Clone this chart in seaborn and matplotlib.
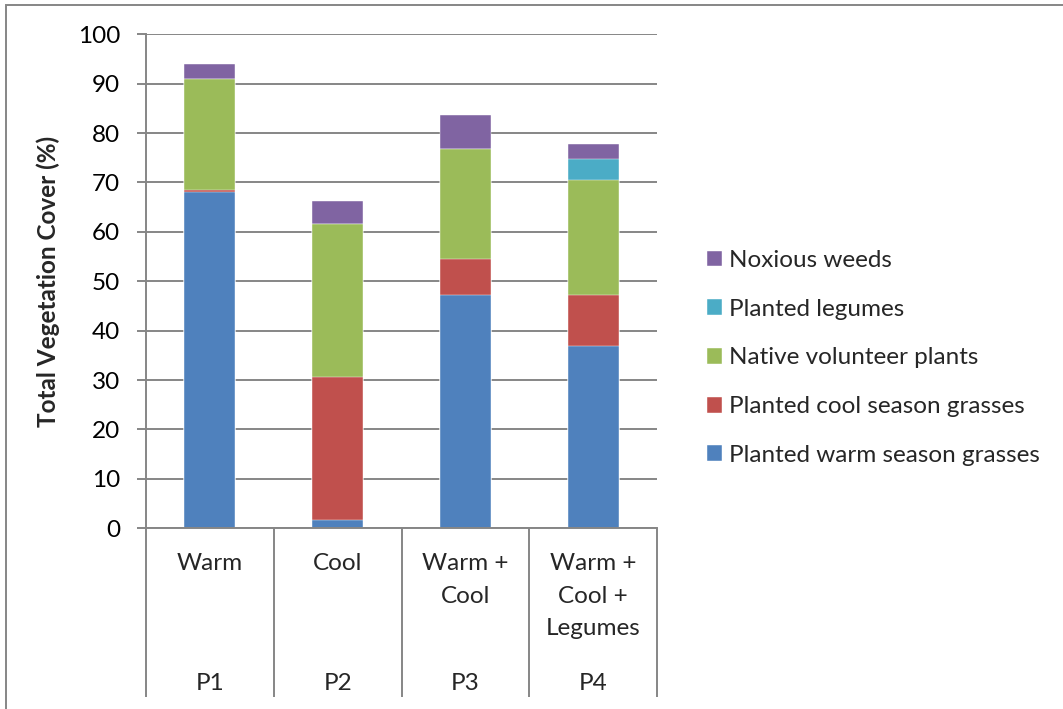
import numpy as np
import pandas as pd
import seaborn as sns
import matplotlib.pyplot as plt
from matplotlib.patches import Rectangle
import matplotlib.transforms as mtransforms

# (percent cover)
plots = ["P1", "P2", "P3", "P4"]
treatments = ["Warm", "Cool", "Warm +\nCool", "Warm +\nCool +\nLegumes"]
warm_grasses = [68.1, 1.7, 47.2, 37.0]
cool_grasses = [0.4, 29.0, 7.3, 10.2]
native_plants = [22.4, 31.0, 22.3, 23.4]
legumes = [0.0, 0.0, 0.0, 4.1]
noxious_weeds = [3.1, 4.6, 6.9, 3.0]

series_names = ["Planted warm season grasses", "Planted cool season grasses",
                "Native volunteer plants", "Planted legumes", "Noxious weeds"]
series_colors = ["#4F81BD", "#C0504D", "#9BBB59", "#4BACC6", "#8064A2"]

sns.set_theme(style="white")
plt.rcParams["font.family"] = ["Lato", "DejaVu Sans"]
FS = 17.5

df = pd.DataFrame({
    "plot": plots,
    series_names[0]: warm_grasses,
    series_names[1]: cool_grasses,
    series_names[2]: native_plants,
    series_names[3]: legumes,
    series_names[4]: noxious_weeds,
})
# cumulative stack heights, drawn from the top layer down so lower layers sit on top
cum = df[series_names].cumsum(axis=1)
cum["plot"] = df["plot"]

fig = plt.figure(figsize=(10.63, 7.09), dpi=100)
ax = fig.add_axes([146 / 1063, 1 - 528.3 / 709, 511 / 1063, 494 / 709])

for name, color in reversed(list(zip(series_names, series_colors))):
    sns.barplot(data=cum, x="plot", y=name, color=color, width=0.4,
                label=name, ax=ax, saturation=1, edgecolor="white", linewidth=0.3)

grey = "#868686"
ax.set_ylim(0, 100)
ax.set_xlim(-0.5, 3.5)
ax.set_yticks(np.arange(0, 101, 10))
ax.yaxis.grid(True, color=grey, linewidth=1.4)
ax.set_axisbelow(True)
ax.tick_params(axis="y", length=6.5, width=1.4, color=grey, labelsize=FS, pad=12,
               left=True, labelcolor="black")
ax.tick_params(axis="x", length=0, labelbottom=False)
for s in ["top", "right"]:
    ax.spines[s].set_visible(False)
for s in ["left", "bottom"]:
    ax.spines[s].set_color(grey)
    ax.spines[s].set_linewidth(1.4)

ax.set_xlabel("")
ax.set_ylabel("Total Vegetation Cover (%)", fontsize=FS, fontweight="bold")
ax.yaxis.set_label_coords(-0.168, 0.5)

# two-level category axis
trans = mtransforms.blended_transform_factory(ax.transData, ax.transAxes)
for i, (t, p) in enumerate(zip(treatments, plots)):
    ax.text(i, -0.05, t, transform=trans, ha="center", va="top", fontsize=FS,
            linespacing=1.68)
    ax.text(i, -0.314, p, transform=trans, ha="center", va="center", fontsize=FS)
for xb in [-0.5, 0.5, 1.5, 2.5, 3.5]:
    ax.plot([xb, xb], [0, -0.3415], transform=trans, color=grey, lw=1.4,
            clip_on=False, solid_capstyle="butt")

handles, labels = ax.get_legend_handles_labels()
ax.legend(handles, labels, loc="center left", bbox_to_anchor=(707 / 1063, 1 - 358 / 709),
          bbox_transform=fig.transFigure, frameon=False, fontsize=FS,
          handlelength=0.62, handleheight=0.62, handletextpad=0.3,
          labelspacing=1.14, borderpad=0, borderaxespad=0)

# outer chart border
fig.patches.append(Rectangle((6 / 1063, -0.1), 1.2, 1 - 5 / 709 + 0.1,
                             transform=fig.transFigure, fill=False,
                             edgecolor=grey, linewidth=1.4))

fig.savefig("out.png", dpi=100)
